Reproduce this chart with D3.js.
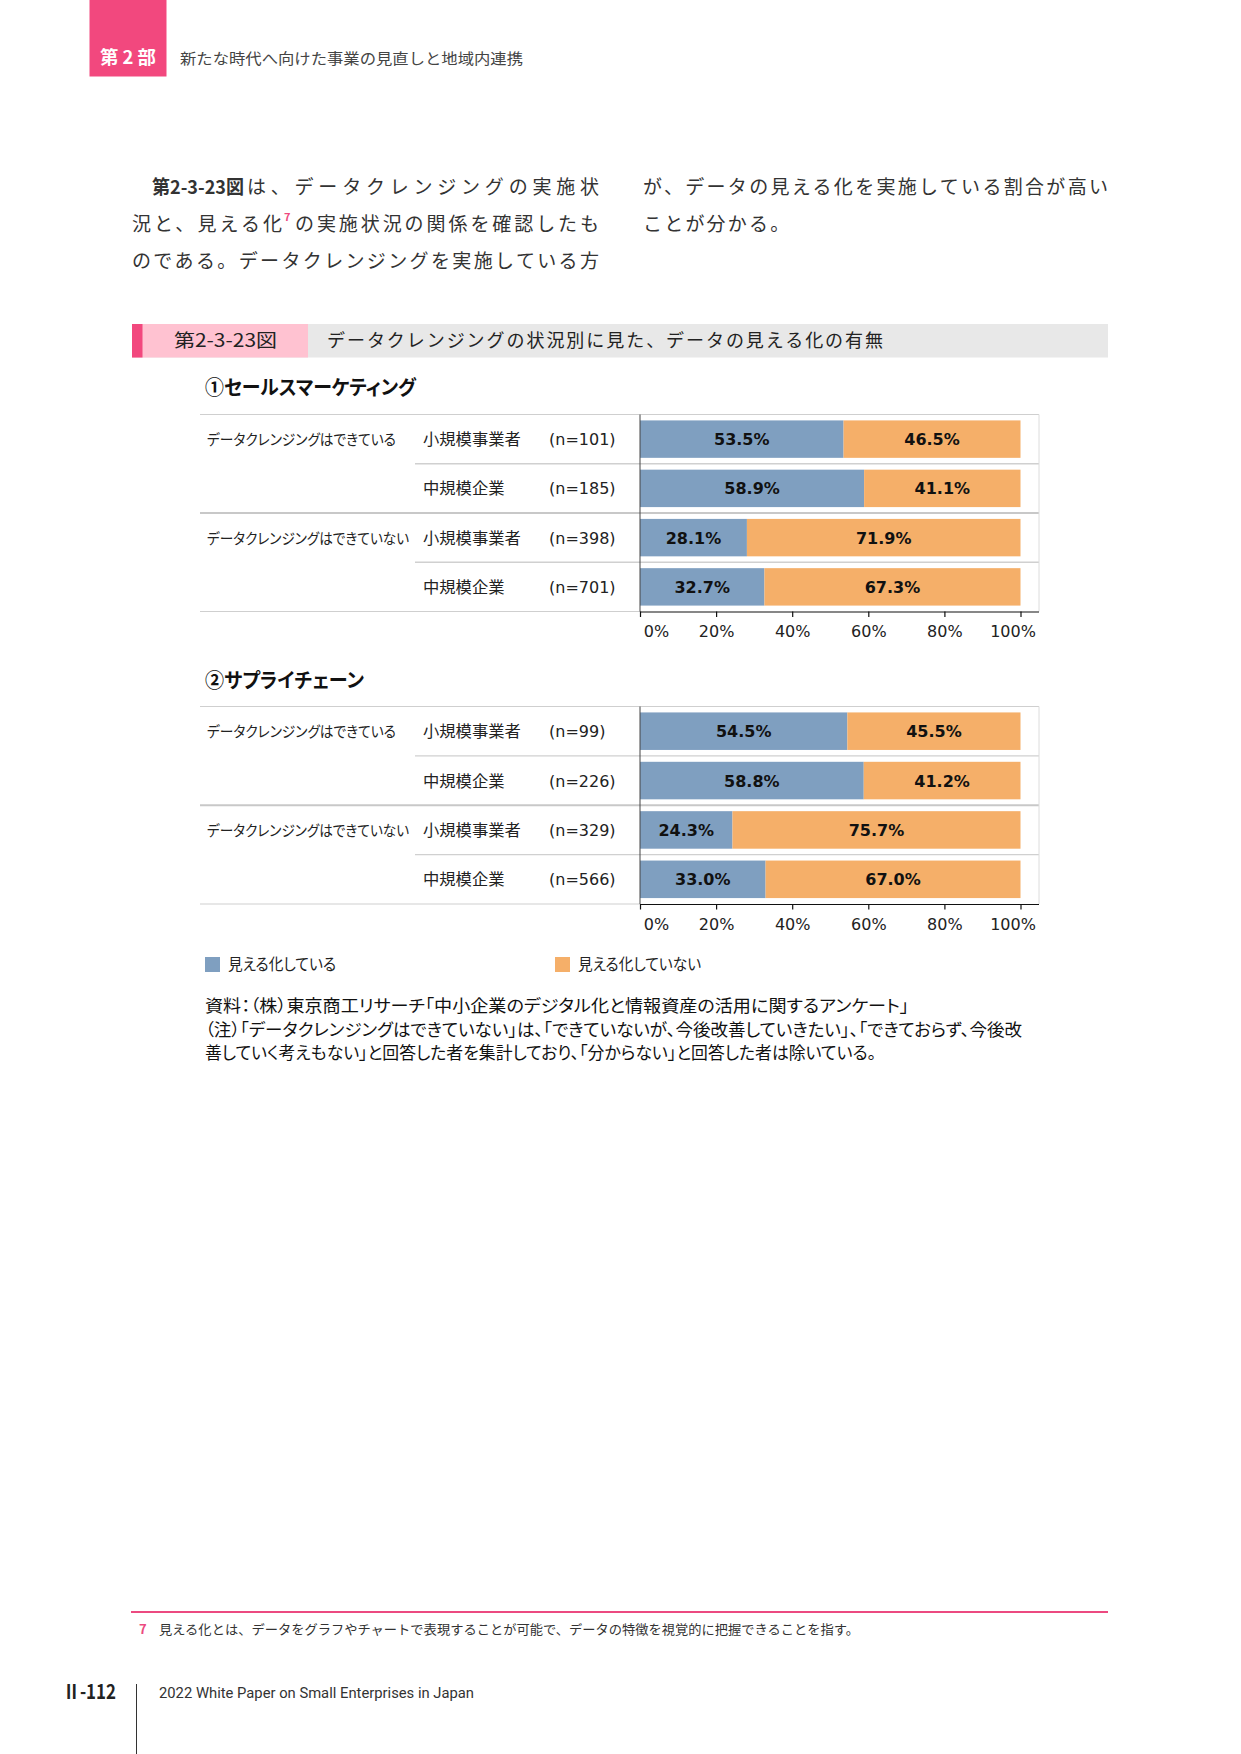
<!DOCTYPE html>
<html>
<head>
<meta charset="utf-8">
<script src="https://cdn.jsdelivr.net/npm/d3@7"></script>
<style>
  body { margin: 0; background: #fff; }
  svg text { font-family: "Noto Sans CJK JP", "Noto Sans", sans-serif; }
  .num { font-family: "DejaVu Sans", Verdana, sans-serif; }
  .palt { font-feature-settings: "palt"; }
</style>
</head>
<body>
<div id="chart"></div>
<script>
// chart data
var groups = ["データクレンジングはできている", "", "データクレンジングはできていない", ""];
var sizes = ["小規模事業者", "中規模企業", "小規模事業者", "中規模企業"];
var salesN = [101, 185, 398, 701];
var salesYes = [53.5, 58.9, 28.1, 32.7];
var salesNo = [46.5, 41.1, 71.9, 67.3];
var supplyN = [99, 226, 329, 566];
var supplyYes = [54.5, 58.8, 24.3, 33.0];
var supplyNo = [45.5, 41.2, 75.7, 67.0];
var tickValues = [0, 20, 40, 60, 80, 100];
var seriesNames = ["見える化している", "見える化していない"];
var seriesColors = ["#7f9fc0", "#f5af69"];

function init(){
    var w = 1241;
    var h = 1754;
    var svg = d3.select("#chart")
                .append("svg")
                .attr("width", w)
                .attr("height", h);

    // page header
    svg.append("rect").attr("x", 89.5).attr("y", 0).attr("width", 77).attr("height", 76.5)
        .style("fill", "#f2487e");
    svg.append("text").attr("x", 100).attr("y", 64).text("第 2 部")
        .attr("textLength", 56).attr("lengthAdjust", "spacingAndGlyphs")
        .style("fill", "#fff").style("font-weight", 700).style("font-size", "18px");
    svg.append("text").attr("x", 180).attr("y", 64).text("新たな時代へ向けた事業の見直しと地域内連携")
        .attr("textLength", 343).attr("lengthAdjust", "spacingAndGlyphs")
        .style("fill", "#444").style("font-size", "15px");

    // body text
    var body = svg.append("g").style("font-size", "19px").style("fill", "#333");
    body.append("text").attr("x", 152).attr("y", 194).text("第2-3-23図")
        .attr("textLength", 92).attr("lengthAdjust", "spacingAndGlyphs")
        .style("font-weight", 700);
    body.append("text").attr("x", 247).attr("y", 194).text("は、データクレンジングの実施状")
        .attr("textLength", 352).attr("lengthAdjust", "spacing");
    body.append("text").attr("x", 132).attr("y", 231).text("況と、見える化")
        .attr("textLength", 150).attr("lengthAdjust", "spacing");
    body.append("text").attr("x", 284).attr("y", 221).text("7")
        .style("font-size", "11px").style("fill", "#ee4a7f").style("font-weight", 700);
    body.append("text").attr("x", 295).attr("y", 231).text("の実施状況の関係を確認したも")
        .attr("textLength", 304).attr("lengthAdjust", "spacing");
    body.append("text").attr("x", 132).attr("y", 268).text("のである。データクレンジングを実施している方")
        .attr("textLength", 467).attr("lengthAdjust", "spacing");
    body.append("text").attr("x", 643).attr("y", 194).text("が、データの見える化を実施している割合が高い")
        .attr("textLength", 465).attr("lengthAdjust", "spacing");
    body.append("text").attr("x", 643).attr("y", 231).text("ことが分かる。")
        .style("letter-spacing", "2.2px");

    // figure title bar
    svg.append("rect").attr("x", 132).attr("y", 324).attr("width", 976).attr("height", 33.5).style("fill", "#e8e8e8");
    svg.append("rect").attr("x", 132).attr("y", 324).attr("width", 176).attr("height", 33.5).style("fill", "#ffc2d1");
    svg.append("rect").attr("x", 132).attr("y", 324).attr("width", 10.5).attr("height", 33.5).style("fill", "#f2487e");
    svg.append("text").attr("x", 174).attr("y", 347).text("第2-3-23図")
        .attr("textLength", 103).attr("lengthAdjust", "spacingAndGlyphs")
        .style("font-size", "18px").style("fill", "#222");
    svg.append("text").attr("x", 327).attr("y", 347).text("データクレンジングの状況別に見た、データの見える化の有無")
        .attr("textLength", 556).attr("lengthAdjust", "spacing")
        .style("font-size", "18px").style("fill", "#222");

    var x = d3.scaleLinear().domain([0, 100]).range([640, 1020.5]);

    function drawChart(title, titleY, titleLen, top, bottom, yes, no, nList){
        svg.append("text").attr("x", 205).attr("y", titleY).text(title)
            .attr("class", "palt")
            .attr("textLength", titleLen).attr("lengthAdjust", "spacingAndGlyphs")
            .style("font-size", "20px").style("font-weight", 700).style("fill", "#111");

        var y = d3.scaleBand()
                    .domain(d3.range(sizes.length))
                    .range([top, bottom])
                    .paddingInner(0.24)
                    .paddingOuter(0.12);
        var half = (y.step() - y.bandwidth()) / 2;

        var g = svg.append("g");

        // separator lines
        g.append("line").attr("x1", 200).attr("x2", 1039).attr("y1", top).attr("y2", top)
            .style("stroke", "#cfcfcf").style("stroke-width", 1);
        for(var i = 1; i < sizes.length; i++){
            var yy = y(i) - half;
            var newGroup = groups[i] !== "";
            g.append("line")
                .attr("x1", newGroup ? 200 : 415).attr("x2", 1039)
                .attr("y1", yy).attr("y2", yy)
                .style("stroke", newGroup ? "#c8c8c8" : "#d0d0d0")
                .style("stroke-width", newGroup ? 2.2 : 1.4);
        }
        g.append("line").attr("x1", 200).attr("x2", 640).attr("y1", bottom).attr("y2", bottom)
            .style("stroke", "#cfcfcf").style("stroke-width", 1);
        g.append("line").attr("x1", 1039).attr("x2", 1039).attr("y1", top).attr("y2", bottom)
            .style("stroke", "#dcdcdc").style("stroke-width", 1);

        // bars
        var rows = yes.map(function(v, i){ return {i: i, yes: v, no: no[i]}; });
        var stack = d3.stack().keys(["yes", "no"])(rows);
        stack.forEach(function(layer, k){
            g.selectAll(null)
                .data(layer)
                .enter()
                .append("rect")
                .attr("x", function(d){ return x(d[0]); })
                .attr("y", function(d){ return y(d.data.i); })
                .attr("width", function(d){ return x(d[1]) - x(d[0]); })
                .attr("height", y.bandwidth())
                .style("fill", seriesColors[k]);
            g.selectAll(null)
                .data(layer)
                .enter()
                .append("text")
                .attr("class", "num")
                .attr("x", function(d){ return (x(d[0]) + x(d[1])) / 2; })
                .attr("y", function(d){ return y(d.data.i) + y.bandwidth() / 2 + 6; })
                .attr("text-anchor", "middle")
                .style("font-size", "16px")
                .style("font-weight", 700)
                .style("fill", "#111")
                .text(function(d){ return (d[1] - d[0]).toFixed(1) + "%"; });
        });

        // row labels
        g.selectAll(null)
            .data(groups)
            .enter()
            .append("text")
            .filter(function(d){ return d !== ""; })
            .attr("class", "palt")
            .attr("x", 207)
            .attr("y", function(d){ return y(groups.indexOf(d)) + y.bandwidth() / 2 + 6; })
            .attr("textLength", function(d){ return d.length > 15 ? 202 : 189; })
            .attr("lengthAdjust", "spacingAndGlyphs")
            .style("font-size", "15px").style("fill", "#222")
            .text(function(d){ return d; });
        g.selectAll(null)
            .data(sizes)
            .enter()
            .append("text")
            .attr("x", 423)
            .attr("y", function(d, i){ return y(i) + y.bandwidth() / 2 + 6; })
            .attr("textLength", function(d){ return d.length * 16.3; })
            .attr("lengthAdjust", "spacingAndGlyphs")
            .style("font-size", "16px").style("fill", "#222")
            .text(function(d){ return d; });
        g.selectAll(null)
            .data(nList)
            .enter()
            .append("text")
            .attr("class", "num")
            .attr("x", 549)
            .attr("y", function(d, i){ return y(i) + y.bandwidth() / 2 + 6; })
            .style("font-size", "16px").style("fill", "#222")
            .text(function(d){ return "(n=" + d + ")"; });

        // axes
        g.append("line").attr("x1", 640).attr("x2", 640).attr("y1", top).attr("y2", bottom)
            .style("stroke", "#444").style("stroke-width", 1);
        var axis = g.append("g")
            .attr("transform", "translate(0," + bottom + ")")
            .call(d3.axisBottom(x)
                    .tickValues(tickValues)
                    .tickSize(5.5)
                    .tickPadding(9)
                    .tickFormat(function(d){ return d + "%"; }));
        axis.select(".domain").remove();
        axis.append("line").attr("x1", 640).attr("x2", 1039).attr("y1", 0.5).attr("y2", 0.5)
            .style("stroke", "#111").style("stroke-width", 1.2);
        axis.selectAll(".tick line").style("stroke", "#111").style("stroke-width", 1.2);
        axis.selectAll(".tick text")
            .attr("class", "num")
            .style("font-size", "16px")
            .style("fill", "#222")
            .attr("dx", function(d){ return d === 0 ? 16 : (d === 100 ? -8 : 0); });
    }

    drawChart("①セールスマーケティング", 395, 211, 414.5, 611.5, salesYes, salesNo, salesN);
    drawChart("②サプライチェーン", 688, 159, 706.5, 904, supplyYes, supplyNo, supplyN);

    // legend
    var legX = [205, 555];
    var legLen = [108, 123];
    seriesNames.forEach(function(name, k){
        svg.append("rect").attr("x", legX[k]).attr("y", 957).attr("width", 15).attr("height", 15)
            .style("fill", seriesColors[k]);
        svg.append("text").attr("x", legX[k] + 23).attr("y", 970).text(name)
            .attr("class", "palt")
            .attr("textLength", legLen[k]).attr("lengthAdjust", "spacingAndGlyphs")
            .style("font-size", "16px").style("fill", "#222");
    });

    // notes
    var notes = [
        ["資料：（株）東京商工リサーチ「中小企業のデジタル化と情報資産の活用に関するアンケート」", 704, 1012],
        ["（注）「データクレンジングはできていない」は、「できていないが、今後改善していきたい」、「できておらず、今後改", 817, 1036],
        ["善していく考えもない」と回答した者を集計しており、「分からない」と回答した者は除いている。", 671, 1059]
    ];
    notes.forEach(function(n){
        svg.append("text").attr("x", 205).attr("y", n[2]).text(n[0])
            .attr("class", "palt")
            .attr("textLength", n[1]).attr("lengthAdjust", "spacingAndGlyphs")
            .style("font-size", "17px").style("fill", "#111");
    });

    // footnote
    svg.append("line").attr("x1", 131).attr("x2", 1108).attr("y1", 1612).attr("y2", 1612)
        .style("stroke", "#ec4a80").style("stroke-width", 2);
    svg.append("text").attr("x", 139).attr("y", 1634).text("7")
        .style("font-size", "13px").style("font-weight", 700).style("fill", "#ec4a80");
    svg.append("text").attr("x", 159).attr("y", 1634)
        .text("見える化とは、データをグラフやチャートで表現することが可能で、データの特徴を視覚的に把握できることを指す。")
        .attr("textLength", 700).attr("lengthAdjust", "spacingAndGlyphs")
        .style("font-size", "13px").style("fill", "#333");

    // page footer
    svg.append("text").attr("x", 63).attr("y", 1699).text("Ⅱ-112")
        .attr("textLength", 53).attr("lengthAdjust", "spacingAndGlyphs")
        .style("font-size", "20px").style("font-weight", 700).style("fill", "#222");
    svg.append("line").attr("x1", 136.5).attr("x2", 136.5).attr("y1", 1684).attr("y2", 1754)
        .style("stroke", "#333").style("stroke-width", 1);
    svg.append("text").attr("x", 159).attr("y", 1698).text("2022 White Paper on Small Enterprises in Japan")
        .attr("textLength", 315).attr("lengthAdjust", "spacingAndGlyphs")
        .style("font-family", "Roboto, 'Noto Sans', sans-serif")
        .style("font-size", "14px").style("fill", "#333");
}
window.onload = init;
</script>
</body>
</html>
